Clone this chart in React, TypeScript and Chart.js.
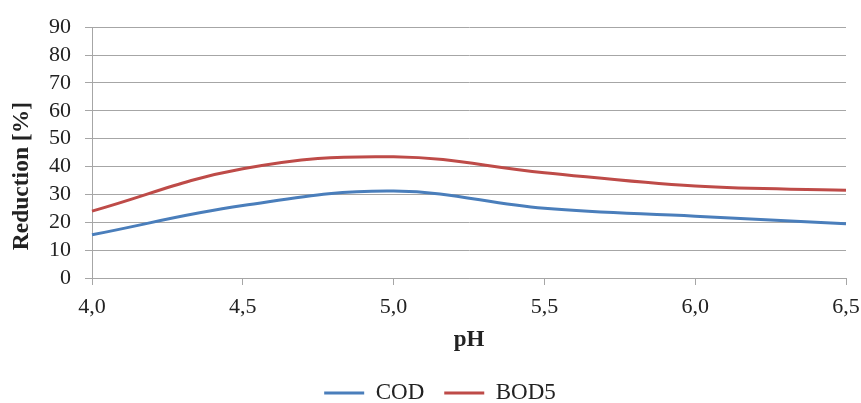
import React, { useEffect, useRef } from "react";
import { Chart, registerables } from "chart.js";

Chart.register(...registerables);

const phLabels = ["4,0", "4,5", "5,0", "5,5", "6,0", "6,5"];
const codValues = [15.5, 26, 31.2, 25, 22.2, 19.5];
const bod5Values = [24, 39.2, 43.5, 37.8, 33, 31.5];
const yMin = 0;
const yMax = 90;
const yStep = 10;

const FONT = "'Liberation Serif', 'Times New Roman', serif";

const legendShift = {
  id: "legendShift",
  afterLayout(chart: any) {
    if (chart.legend) {
      chart.legend.left = 34;
    }
  },
};

export default function App() {
  const ref = useRef<HTMLCanvasElement | null>(null);

  useEffect(() => {
    if (!ref.current) return;
    const chart = new Chart(ref.current, {
      type: "line",
      data: {
        labels: phLabels,
        datasets: [
          {
            label: "COD",
            data: codValues,
            borderColor: "#4a7ebb",
            backgroundColor: "#4a7ebb",
            borderWidth: 3,
            pointRadius: 0,
            tension: 0.4,
            fill: false,
          },
          {
            label: "BOD5",
            data: bod5Values,
            borderColor: "#be4b48",
            backgroundColor: "#be4b48",
            borderWidth: 3,
            pointRadius: 0,
            tension: 0.4,
            fill: false,
          },
        ],
      },
      plugins: [legendShift],
      options: {
        responsive: false,
        animation: false,
        devicePixelRatio: 1,
        layout: { padding: { left: 0, right: 15, top: 18, bottom: -11.5 } },
        plugins: {
          legend: {
            position: "bottom",
            labels: {
              usePointStyle: true,
              pointStyle: "line",
              pointStyleWidth: 40,
              boxHeight: 23,
              padding: 20,
              color: "#222",
              font: { family: FONT, size: 23 },
            },
          },
          tooltip: { enabled: false },
        },
        scales: {
          x: {
            type: "category",
            offset: false,
            grid: {
              display: true,
              drawOnChartArea: false,
              drawTicks: true,
              tickLength: 7,
              color: "#a6a6a6",
            },
            border: { color: "#a6a6a6", width: 1 },
            ticks: {
              color: "#222",
              font: { family: FONT, size: 22 },
              padding: 9,
              maxRotation: 0,
              autoSkip: false,
            },
            title: {
              display: true,
              text: "pH",
              color: "#222",
              font: { family: FONT, size: 23, weight: "bold" },
              padding: { top: 4, bottom: 8 },
            },
            afterFit: (scale: any) => {
              scale.height = 83.5;
              scale.paddingRight = 15;
              scale.paddingLeft = 0;
            },
          },
          y: {
            min: yMin,
            max: yMax,
            grid: {
              color: "#a6a6a6",
              tickLength: 7,
              drawTicks: true,
            },
            border: { color: "#a6a6a6", width: 1 },
            ticks: {
              stepSize: yStep,
              color: "#222",
              font: { family: FONT, size: 22 },
              padding: 14,
              autoSkip: false,
            },
            title: {
              display: true,
              text: "Reduction [%]        ",
              color: "#222",
              font: { family: FONT, size: 23.5, weight: "bold" },
              padding: { top: 8, bottom: 4 },
            },
            afterFit: (scale: any) => {
              scale.width = 92;
            },
          },
        },
      },
    });
    return () => chart.destroy();
  }, []);

  return (
    <div style={{ position: "fixed", left: 0, top: 0, width: 861, height: 403, background: "#fff" }}>
      <canvas ref={ref} width={861} height={403} style={{ width: 861, height: 403 }} />
    </div>
  );
}
